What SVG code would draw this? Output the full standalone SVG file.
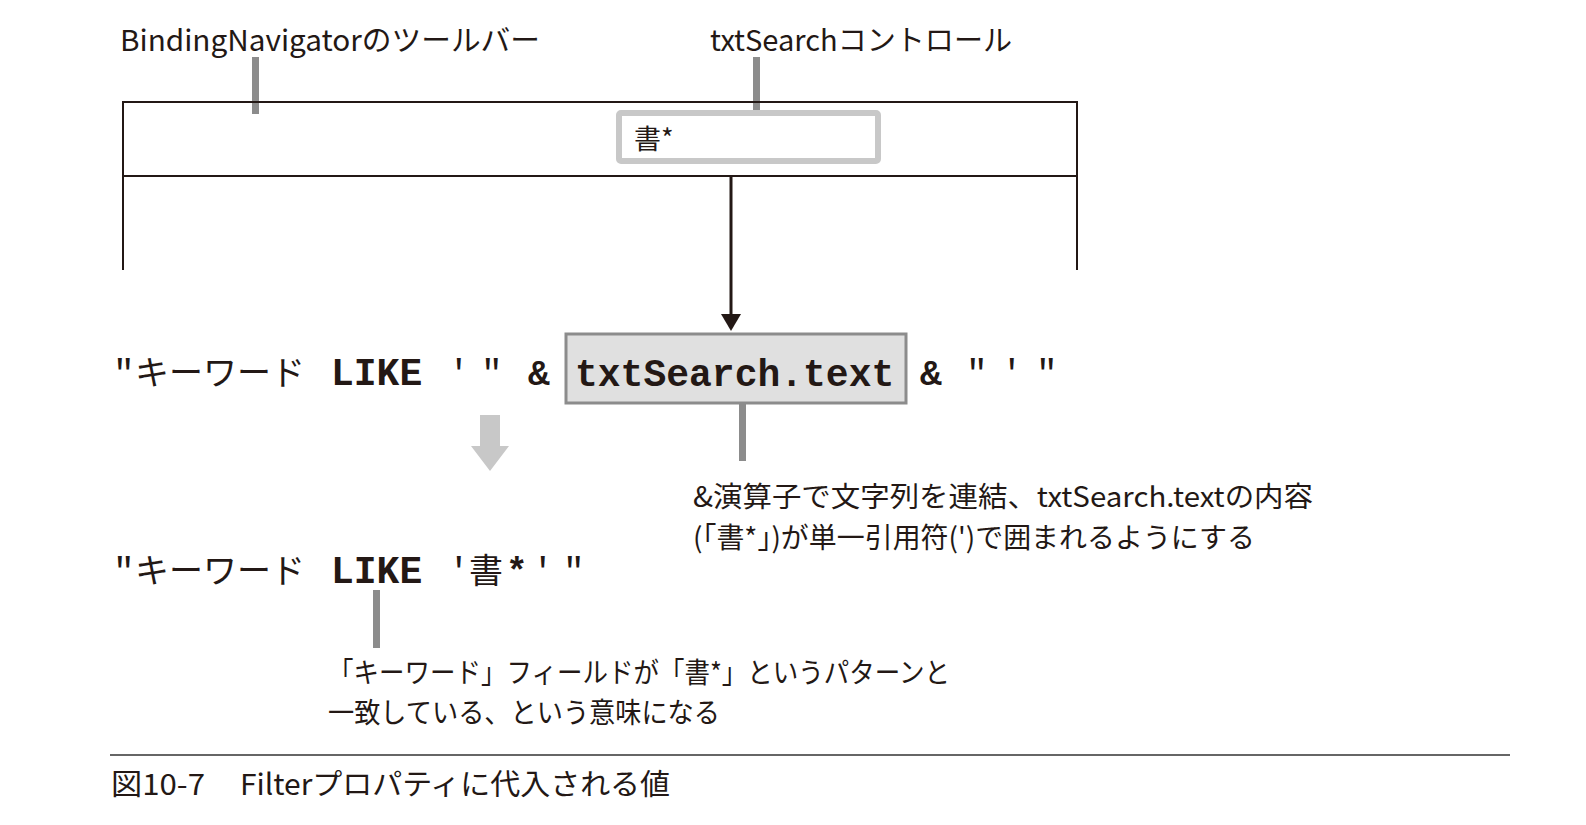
<svg xmlns="http://www.w3.org/2000/svg" width="1586" height="825" viewBox="0 0 1586 825">
<style>
.jp{font-family:"Noto Sans CJK JP","Noto Sans",sans-serif;fill:#231815}
.mono{font-family:"Liberation Mono","DejaVu Sans Mono",monospace;fill:#231815}
.lbl{font-size:29px}
.note{font-size:28px}
.code{font-size:36px}
.tick{fill:#8c8c8c}
</style>
<rect width="1586" height="825" fill="#ffffff"/>
<g id="toolbar-label">
<text class="jp lbl" x="120" y="51" textLength="420" lengthAdjust="spacingAndGlyphs">BindingNavigatorのツールバー</text>
<rect class="tick" x="252" y="57" width="7" height="57"/>
</g>
<g id="txtsearch-label">
<text class="jp lbl" x="710" y="51" textLength="302" lengthAdjust="spacingAndGlyphs">txtSearchコントロール</text>
<rect class="tick" x="753" y="57" width="7" height="57"/>
</g>
<g id="window">
<path d="M123 270 V102 H1077 V270 M123 176 H1077" fill="none" stroke="#231815" stroke-width="2"/>
</g>
<g id="textbox">
<rect x="619" y="113" width="259" height="48" fill="#ffffff" stroke="#c8c8c8" stroke-width="6" rx="2"/>
<text class="jp" font-size="27" x="634" y="149">書*</text>
</g>
<g id="connectors">
<line x1="731" y1="177" x2="731" y2="316" stroke="#231815" stroke-width="3"/>
<polygon points="721,314 741,314 731,331" fill="#231815"/>
<polygon points="480,415 500,415 500,446 509,446 490,471 471,446 480,446" fill="#c8c8c8"/>
<rect class="tick" x="739" y="404" width="7" height="57"/>
<rect class="tick" x="373" y="590" width="7" height="58"/>
</g>
<g id="expression1">
<text class="mono code" x="113" y="385">"</text>
<text class="jp" font-size="34" x="135" y="385">キーワード</text>
<text class="mono" font-weight="bold" x="331" y="385" font-size="38">LIKE</text>
<text class="mono code" x="448" y="385">'</text>
<text class="mono code" x="481" y="385">"</text>
<text class="mono code" font-weight="bold" x="528" y="385">&amp;</text>
<text class="mono code" font-weight="bold" x="920" y="385">&amp;</text>
<text class="mono code" x="966" y="385">"</text>
<text class="mono code" x="1001" y="385">'</text>
<text class="mono code" x="1036" y="385">"</text>
</g>
<g id="txtsearch-box">
<rect x="566" y="334" width="340" height="69" fill="#e0e0e0" stroke="#8c8c8c" stroke-width="3"/>
<text class="mono" font-weight="bold" font-size="38" x="575" y="386">txtSearch.text</text>
</g>
<g id="note1">
<text class="jp note" x="693" y="507" textLength="620" lengthAdjust="spacingAndGlyphs">&amp;演算子で文字列を連結、txtSearch.textの内容</text>
<text class="jp note" x="693" y="548" textLength="562" lengthAdjust="spacingAndGlyphs">(「書*」)が単一引用符(')で囲まれるようにする</text>
</g>
<g id="expression2">
<text class="mono code" x="113" y="583">"</text>
<text class="jp" font-size="34" x="135" y="583">キーワード</text>
<text class="mono" font-weight="bold" x="331" y="583" font-size="38">LIKE</text>
<text class="mono code" x="448" y="583">'</text>
<text class="jp" font-size="34" x="469" y="583">書</text>
<text class="mono code" font-weight="bold" x="506" y="583">*</text>
<text class="mono code" x="532" y="583">'</text>
<text class="mono code" x="563" y="583">"</text>
</g>
<g id="note2">
<text class="jp note" x="328" y="683" textLength="622" lengthAdjust="spacingAndGlyphs">「キーワード」フィールドが「書*」というパターンと</text>
<text class="jp note" x="328" y="723" textLength="392" lengthAdjust="spacingAndGlyphs">一致している、という意味になる</text>
</g>
<g id="caption">
<line x1="110" y1="755" x2="1510" y2="755" stroke="#666666" stroke-width="2"/>
<text class="jp" font-size="29" x="111" y="795" textLength="94" lengthAdjust="spacingAndGlyphs">図10-7</text>
<text class="jp" font-size="29" x="240" y="795" textLength="430" lengthAdjust="spacingAndGlyphs">Filterプロパティに代入される値</text>
</g>
</svg>
